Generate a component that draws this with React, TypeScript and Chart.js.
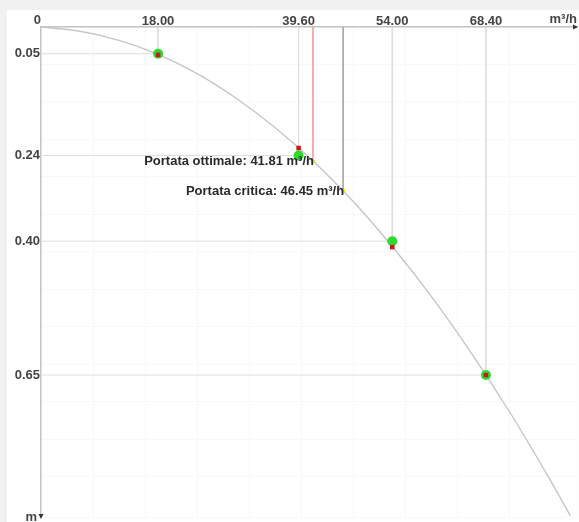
import React, { useEffect, useRef } from "react";
import { Chart, registerables } from "chart.js";

Chart.register(...registerables);

// ---- data ----
const flowTicks = [18, 39.6, 54, 68.4];
const headTicks = [0.05, 0.24, 0.4, 0.65];
const pointFlows = [18, 39.6, 54, 68.4];
const pointHeads = [0.05, 0.24, 0.4, 0.65];
const measuredHeads = [0.052, 0.226, 0.411, 0.65];
const curveFlows = [0, 6, 12, 18, 24, 30, 36, 42, 48, 54, 60, 66, 72, 78, 81.4];
const curveHeads = [0, 0.008, 0.025, 0.051, 0.087, 0.133, 0.188, 0.252, 0.326, 0.41, 0.503, 0.606, 0.718, 0.84, 0.913];
const specialFlows = [41.81, 46.45];
const specialHeads = [0.25, 0.306];
const specialLabels = ["Portata ottimale: 41.81 m³/h", "Portata critica: 46.45 m³/h"];
const specialColors = ["#f4a3a3", "#a8a8a8"];
const xMax = 82.4;
const yMax = 0.915;
const xUnit = "m³/h";
const yUnit = "m";

const FONT = "Arial, 'Liberation Sans', sans-serif";

const fix = (w: number | null, h: number | null) => (s: any) => {
  if (w !== null) s.width = w;
  if (h !== null) s.height = h;
  s.paddingTop = 0;
  s.paddingBottom = 0;
  s.paddingLeft = 0;
  s.paddingRight = 0;
};

export default function App() {
  const ref = useRef<HTMLCanvasElement | null>(null);

  useEffect(() => {
    document.body.style.margin = "0";
    const canvas = ref.current;
    if (!canvas) return;

    const datasets: any[] = [];

    // red measured squares (top)
    datasets.push({
      data: pointFlows.map((f, i) => ({ x: f, y: measuredHeads[i] })),
      showLine: false,
      pointStyle: "rect",
      pointRadius: 3.2,
      pointBackgroundColor: "#c81a1a",
      pointBorderWidth: 0,
      order: 1,
    });
    // green points
    datasets.push({
      data: pointFlows.map((f, i) => ({ x: f, y: pointHeads[i] })),
      showLine: false,
      pointRadius: 5,
      pointBackgroundColor: "#2fd92f",
      pointBorderWidth: 0,
      order: 2,
    });
    // yellow special points
    datasets.push({
      data: specialFlows.map((f, i) => ({ x: f, y: specialHeads[i] })),
      showLine: false,
      pointRadius: 2,
      pointBackgroundColor: "#e8e800",
      pointBorderWidth: 0,
      order: 3,
    });
    // curve
    datasets.push({
      data: curveFlows.map((f, i) => ({ x: f, y: curveHeads[i] })),
      showLine: true,
      borderColor: "#c6c6c6",
      borderWidth: 1.4,
      pointRadius: 0,
      cubicInterpolationMode: "monotone",
      order: 4,
    });
    // guide lines for points
    pointFlows.forEach((f, i) => {
      const h = pointHeads[i];
      datasets.push({
        data: [{ x: f, y: 0 }, { x: f, y: h }],
        showLine: true,
        borderColor: "#dedede",
        borderWidth: 1,
        pointRadius: 0,
        order: 6,
      });
      datasets.push({
        data: [{ x: 0, y: h }, { x: f, y: h }],
        showLine: true,
        borderColor: "#dedede",
        borderWidth: 1,
        pointRadius: 0,
        order: 6,
      });
    });
    // guide lines for special flows
    specialFlows.forEach((f, i) => {
      datasets.push({
        data: [{ x: f, y: 0 }, { x: f, y: specialHeads[i] }],
        showLine: true,
        borderColor: specialColors[i],
        borderWidth: 1,
        pointRadius: 0,
        order: 5,
      });
    });

    const extras = {
      id: "extras",
      afterDatasetsDraw(chart: any) {
        const ctx = chart.ctx;
        const xs = chart.scales.x;
        const ys = chart.scales.y;
        const area = chart.chartArea;
        ctx.save();
        ctx.font = `bold 13px ${FONT}`;
        ctx.fillStyle = "#2a2a2a";
        ctx.textAlign = "right";
        ctx.textBaseline = "middle";
        specialFlows.forEach((f, i) => {
          ctx.fillText(specialLabels[i], xs.getPixelForValue(f) + 1, ys.getPixelForValue(specialHeads[i]) + 1);
        });
        ctx.fillStyle = "#444";
        ctx.fillText("0", xs.getPixelForValue(0), area.top - 7);
        ctx.fillText(xUnit, area.right, area.top - 8);
        ctx.fillText(yUnit, area.left - 4, area.bottom);
        // arrows
        ctx.fillStyle = "#333";
        ctx.beginPath();
        ctx.moveTo(area.right + 1, area.top);
        ctx.lineTo(area.right - 4, area.top - 2.5);
        ctx.lineTo(area.right - 4, area.top + 2.5);
        ctx.closePath();
        ctx.fill();
        ctx.beginPath();
        ctx.moveTo(area.left, area.bottom + 2);
        ctx.lineTo(area.left - 2.5, area.bottom - 3);
        ctx.lineTo(area.left + 2.5, area.bottom - 3);
        ctx.closePath();
        ctx.fill();
        ctx.restore();
      },
    };

    const chart = new Chart(canvas, {
      type: "scatter",
      data: { datasets },
      options: {
        animation: false,
        responsive: false,
        maintainAspectRatio: false,
        layout: { autoPadding: false, padding: { left: 0, top: 0, right: 2, bottom: 5 } },
        plugins: { legend: { display: false }, tooltip: { enabled: false } },
        scales: {
          x: {
            type: "linear",
            position: "top",
            min: 0,
            max: xMax,
            afterBuildTicks: (s: any) => {
              s.ticks = flowTicks.map((v) => ({ value: v }));
            },
            afterFit: fix(null, 27),
            ticks: {
              callback: (v: any) => Number(v).toFixed(2),
              font: { family: FONT, size: 13, weight: "bold" },
              color: "#444",
              padding: -2,
              maxRotation: 0,
              autoSkip: false,
            },
            grid: { display: false, drawTicks: false },
            border: { display: true, color: "#c4c4c4", width: 1.5 },
          },
          y: {
            type: "linear",
            position: "left",
            reverse: true,
            min: 0,
            max: yMax,
            afterBuildTicks: (s: any) => {
              s.ticks = headTicks.map((v) => ({ value: v }));
            },
            afterFit: fix(41, null),
            ticks: {
              callback: (v: any) => Number(v).toFixed(2),
              font: { family: FONT, size: 13, weight: "bold" },
              color: "#444",
              padding: 1,
              autoSkip: false,
            },
            grid: { display: false, drawTicks: false },
            border: { display: true, color: "#c4c4c4", width: 1.5 },
          },
          xg: {
            type: "linear",
            position: "top",
            min: 0,
            max: xMax,
            afterFit: fix(null, 0),
            ticks: { display: false, stepSize: 8 },
            grid: { color: "#f8f8f8", drawTicks: false },
            border: { display: false },
          },
          yg: {
            type: "linear",
            position: "left",
            reverse: true,
            min: 0,
            max: yMax,
            afterFit: fix(0, null),
            ticks: { display: false, stepSize: 0.07 },
            grid: { color: "#f8f8f8", drawTicks: false },
            border: { display: false },
          },
        },
      },
      plugins: [extras],
    });

    return () => chart.destroy();
  }, []);

  return (
    <div style={{ position: "absolute", left: 0, top: 0, width: 579, height: 522, background: "#f1f1f1", overflow: "hidden" }}>
      <div style={{ position: "absolute", left: 7, top: 10, right: 0, bottom: 0, background: "#ffffff" }} />
      <canvas ref={ref} width={579} height={522} style={{ position: "absolute", left: 0, top: 0, width: 579, height: 522 }} />
    </div>
  );
}
